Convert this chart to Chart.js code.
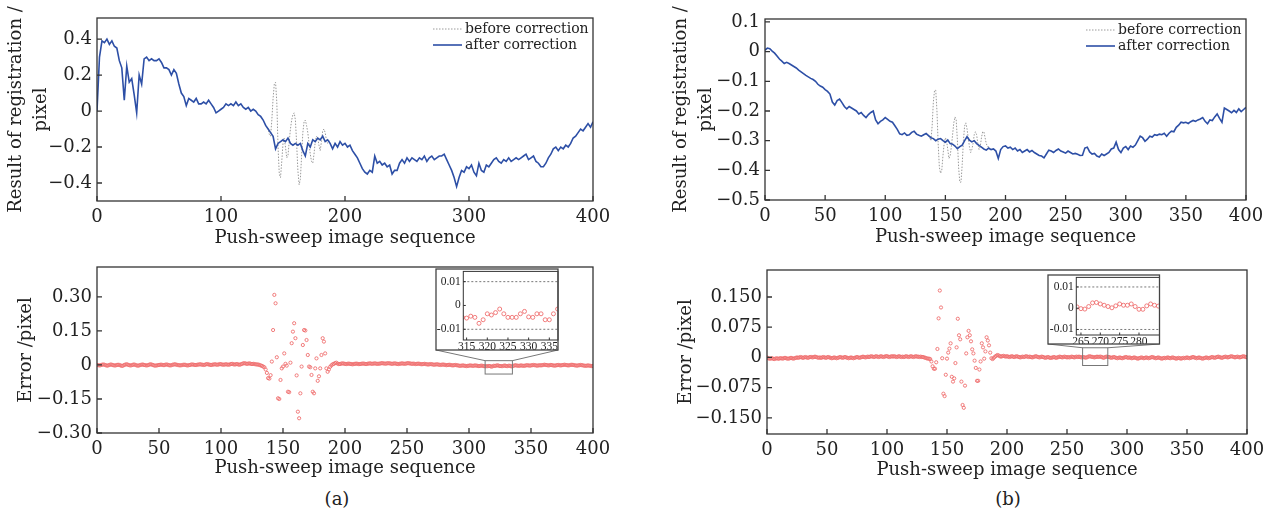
<!DOCTYPE html>
<html>
<head>
<meta charset="utf-8">
<script src="https://cdn.jsdelivr.net/npm/chart.js@4.4.1/dist/chart.umd.min.js"></script>
<style>
  body { margin: 0; background: #fff; }
  #wrap { position: relative; width: 1274px; height: 509px; overflow: hidden; }
  #wrap canvas { position: absolute; }
  .cap { position: absolute; font: 18px "DejaVu Serif", serif; color: #222; transform: translate(-50%, -50%); }
</style>
</head>
<body>
<div id="wrap">
  <canvas id="cRegA" width="630" height="250" style="left:0;top:0"></canvas>
  <canvas id="cErrA" width="630" height="230" style="left:0;top:250px"></canvas>
  <canvas id="cRegB" width="634" height="250" style="left:640px;top:0"></canvas>
  <canvas id="cErrB" width="634" height="232" style="left:640px;top:250px"></canvas>
  <canvas id="cZoomA" width="135" height="90" style="left:430px;top:262px"></canvas>
  <canvas id="cZoomB" width="127" height="78" style="left:1040px;top:268px"></canvas>
  <div class="cap" style="left:337px;top:498px">(a)</div>
  <div class="cap" style="left:1008px;top:498px">(b)</div>
</div>
<script>
// registration result, sampled every 2 images (0..400)
const seqStep = 2;
const afterA = [
  0.00, 0.30, 0.39, 0.38, 0.40, 0.37, 0.39, 0.36, 0.35, 0.28,
  0.24, 0.06, 0.25, 0.16, 0.18, 0.09, -0.01, 0.20, 0.15, 0.29,
  0.30, 0.28, 0.29, 0.28, 0.28, 0.29, 0.27, 0.24, 0.24, 0.23,
  0.20, 0.23, 0.21, 0.15, 0.10, 0.08, 0.03, 0.07, 0.06, 0.05,
  0.07, 0.04, 0.04, 0.05, 0.04, 0.06, 0.04, 0.02, -0.01, 0.00,
  0.01, 0.02, 0.04, 0.03, 0.04, 0.03, 0.05, 0.03, 0.04, 0.02,
  0.01, 0.02, 0.00, 0.01, 0.00, -0.02, -0.03, -0.05, -0.08, -0.10,
  -0.12, -0.14, -0.21, -0.18, -0.17, -0.16, -0.17, -0.15, -0.18, -0.19,
  -0.18, -0.19, -0.18, -0.22, -0.25, -0.18, -0.20, -0.16, -0.17, -0.15,
  -0.16, -0.14, -0.17, -0.16, -0.18, -0.21, -0.18, -0.20, -0.17, -0.19,
  -0.18, -0.20, -0.19, -0.22, -0.24, -0.26, -0.29, -0.32, -0.34, -0.35,
  -0.33, -0.34, -0.25, -0.29, -0.28, -0.30, -0.29, -0.31, -0.30, -0.35,
  -0.33, -0.33, -0.29, -0.27, -0.29, -0.26, -0.28, -0.26, -0.27, -0.28,
  -0.26, -0.27, -0.25, -0.28, -0.26, -0.25, -0.27, -0.26, -0.25, -0.25,
  -0.24, -0.27, -0.30, -0.33, -0.37, -0.42, -0.37, -0.33, -0.34, -0.31,
  -0.32, -0.30, -0.34, -0.36, -0.29, -0.33, -0.34, -0.30, -0.31, -0.29,
  -0.27, -0.26, -0.28, -0.29, -0.27, -0.28, -0.26, -0.28, -0.27, -0.26,
  -0.27, -0.26, -0.25, -0.24, -0.27, -0.26, -0.25, -0.28, -0.29, -0.31,
  -0.31, -0.29, -0.26, -0.24, -0.21, -0.20, -0.22, -0.20, -0.21, -0.19,
  -0.20, -0.18, -0.15, -0.14, -0.12, -0.10, -0.11, -0.09, -0.07, -0.09,
  -0.06
];
const beforeStartA = 136;
const beforeA = [
  -0.08, -0.09, -0.10, -0.13, -0.14, -0.05, 0.07, 0.15, 0.16, 0.05,
  -0.20, -0.35, -0.37, -0.28, -0.18, -0.15, -0.20, -0.26, -0.25, -0.17,
  -0.10, -0.05, -0.02, -0.01, -0.05, -0.18, -0.33, -0.41, -0.38, -0.25,
  -0.12, -0.06, -0.05, -0.08, -0.12, -0.18, -0.24, -0.28, -0.29, -0.24,
  -0.17, -0.14, -0.15, -0.19, -0.22, -0.17, -0.11, -0.10, -0.12, -0.16,
  -0.18, -0.17, -0.16
];
const afterB = [
  0.005, 0.012, 0.010, 0.002, -0.005, -0.015, -0.025, -0.032, -0.040, -0.036,
  -0.040, -0.045, -0.050, -0.055, -0.062, -0.068, -0.074, -0.080, -0.085, -0.090,
  -0.094, -0.100, -0.110, -0.116, -0.120, -0.128, -0.134, -0.143, -0.170, -0.180,
  -0.165, -0.160, -0.172, -0.185, -0.193, -0.185, -0.190, -0.195, -0.200, -0.210,
  -0.205, -0.215, -0.222, -0.212, -0.205, -0.200, -0.230, -0.243, -0.235, -0.230,
  -0.222, -0.228, -0.235, -0.238, -0.250, -0.262, -0.277, -0.280, -0.274, -0.282,
  -0.280, -0.272, -0.268, -0.278, -0.282, -0.285, -0.280, -0.276, -0.283, -0.290,
  -0.293, -0.300, -0.295, -0.293, -0.300, -0.305, -0.298, -0.310, -0.312, -0.318,
  -0.327, -0.320, -0.315, -0.300, -0.287, -0.298, -0.304, -0.300, -0.310, -0.316,
  -0.322, -0.328, -0.332, -0.325, -0.330, -0.328, -0.335, -0.360, -0.330, -0.320,
  -0.318, -0.325, -0.322, -0.330, -0.325, -0.335, -0.330, -0.340, -0.335, -0.330,
  -0.338, -0.333, -0.340, -0.345, -0.350, -0.352, -0.358, -0.345, -0.332, -0.335,
  -0.340, -0.333, -0.328, -0.335, -0.338, -0.342, -0.335, -0.340, -0.345, -0.343,
  -0.346, -0.350, -0.349, -0.325, -0.322, -0.338, -0.345, -0.343, -0.352, -0.355,
  -0.345, -0.350, -0.345, -0.340, -0.328, -0.325, -0.305, -0.330, -0.340, -0.325,
  -0.320, -0.330, -0.318, -0.322, -0.315, -0.300, -0.285, -0.290, -0.302, -0.295,
  -0.285, -0.288, -0.280, -0.282, -0.278, -0.280, -0.275, -0.285, -0.275, -0.268,
  -0.270, -0.255, -0.248, -0.238, -0.240, -0.238, -0.242, -0.236, -0.232, -0.235,
  -0.230, -0.227, -0.222, -0.235, -0.243, -0.230, -0.232, -0.220, -0.210, -0.225,
  -0.238, -0.190, -0.195, -0.200, -0.206, -0.198, -0.205, -0.193, -0.202, -0.195,
  -0.188
];
const beforeStartB = 136;
const beforeB = [
  -0.283, -0.29, -0.30, -0.25, -0.17, -0.13, -0.13, -0.20, -0.31, -0.39,
  -0.41, -0.40, -0.35, -0.31, -0.29, -0.30, -0.33, -0.36, -0.35, -0.32,
  -0.28, -0.24, -0.22, -0.23, -0.30, -0.39, -0.44, -0.44, -0.38, -0.30,
  -0.25, -0.24, -0.26, -0.29, -0.32, -0.34, -0.33, -0.31, -0.28, -0.27,
  -0.28, -0.31, -0.33, -0.32, -0.29, -0.27, -0.27, -0.29, -0.31, -0.32,
  -0.32, -0.33, -0.33
];

// error per image, 0..400
const errA = [
  0.000, -0.001, -0.002, -0.001, 0.001, 0.002, 0.001, -0.001, -0.003, -0.002,
  0.000, 0.002, 0.001, -0.001, -0.002, -0.002, 0.000, 0.001, 0.000, -0.002,
  -0.004, -0.003, 0.000, 0.002, 0.003, 0.001, -0.001, -0.002, -0.001, 0.001,
  0.002, 0.000, -0.002, -0.003, -0.002, 0.000, 0.001, 0.002, 0.000, -0.001,
  -0.002, -0.001, 0.001, 0.003, 0.002, 0.000, -0.002, -0.003, -0.002, -0.001,
  0.000, 0.001, 0.001, 0.000, -0.001, 0.001, 0.002, 0.001, -0.001, -0.002,
  -0.001, 0.001, 0.002, 0.003, 0.001, 0.000, -0.001, -0.002, -0.001, 0.000,
  0.001, 0.001, -0.001, -0.002, -0.001, 0.000, 0.002, 0.002, 0.001, 0.000,
  0.000, 0.001, 0.002, 0.003, 0.002, 0.001, 0.000, 0.001, 0.003, 0.004,
  0.002, 0.001, 0.000, 0.001, 0.002, 0.003, 0.002, 0.001, 0.002, 0.004,
  0.003, 0.002, 0.001, 0.002, 0.003, 0.002, 0.001, 0.002, 0.004, 0.005,
  0.003, 0.002, 0.003, 0.004, 0.002, 0.001, 0.003, 0.005, 0.007, 0.008,
  0.006, 0.005, 0.006, 0.007, 0.005, 0.004, 0.005, 0.004, 0.003, 0.002,
  0.002, 0.000, -0.002, -0.004, -0.007, -0.010,
  -0.020, -0.035, -0.058, -0.060, -0.045, 0.015, 0.154, 0.309, 0.272, 0.034,
  -0.147, -0.150, -0.066, -0.015, -0.007, 0.051, 0.005, -0.003, -0.118, -0.120,
  0.010, 0.096, 0.147, 0.184, 0.118, -0.046, -0.206, -0.235, -0.125, -0.007,
  0.088, 0.154, 0.152, 0.110, 0.044, -0.007, -0.010, -0.044, -0.118, -0.125,
  -0.015, 0.029, -0.070, -0.050, -0.015, 0.044, 0.118, 0.103, 0.051, -0.015,
  -0.030, -0.020, -0.008, -0.002, 0.003, 0.005, 0.008, 0.010, 0.006, 0.004,
  0.004, 0.006, 0.007, 0.006, 0.005, 0.004, 0.005, 0.006, 0.005, 0.004,
  0.003, 0.004, 0.005, 0.006, 0.005, 0.004, 0.004, 0.005, 0.006, 0.006,
  0.005, 0.004, 0.005, 0.006, 0.007, 0.006, 0.005, 0.006, 0.007, 0.006,
  0.005, 0.005, 0.006, 0.007, 0.008, 0.007, 0.006, 0.006, 0.007, 0.008,
  0.007, 0.006, 0.005, 0.006, 0.007, 0.006, 0.005, 0.004, 0.005, 0.006,
  0.007, 0.006, 0.005, 0.006, 0.007, 0.008, 0.007, 0.006, 0.005, 0.006,
  0.005, 0.004, 0.005, 0.006, 0.005, 0.004, 0.003, 0.004, 0.005, 0.004,
  0.003, 0.002, 0.003, 0.004, 0.003, 0.002, 0.001, 0.002, 0.003, 0.002,
  0.001, 0.000, 0.001, 0.002, 0.001, 0.000, -0.001, 0.000, 0.001, 0.000,
  -0.001, -0.002, -0.001, 0.000, -0.001, -0.002, -0.003, -0.004, -0.003, -0.002,
  -0.003, -0.004, -0.005, -0.004, -0.003, -0.002, -0.003, -0.004, -0.003, -0.002,
  -0.003, -0.004, -0.005, -0.004, -0.003, -0.004, -0.005, -0.006, -0.005,
  -0.0053, -0.0045, -0.0050, -0.0075, -0.0060, -0.0035, -0.0040, -0.0030, -0.0015, -0.0035,
  -0.0050, -0.0050, -0.0050, -0.0035, -0.0025, -0.0048, -0.0050, -0.0035, -0.0035, -0.0060,
  -0.0060, -0.0035, -0.0015,
  -0.002, -0.003, -0.004, -0.003, -0.002, -0.003, -0.004, -0.003, -0.002, -0.001,
  -0.002, -0.003, -0.002, -0.001, 0.000, -0.001, -0.002, -0.003, -0.002, -0.001,
  -0.002, -0.001, 0.000, 0.001, 0.000, -0.001, -0.002, -0.001, 0.000, -0.001,
  -0.002, -0.003, -0.002, -0.001, 0.000, -0.001, -0.002, -0.001, 0.000, 0.001,
  0.000, -0.001, -0.002, -0.001, 0.000, 0.001, 0.000, -0.001, -0.002, -0.003,
  -0.002, -0.001, 0.000, -0.001, -0.002, -0.003, -0.004, -0.003, -0.002, -0.003,
  -0.004, -0.005, -0.004
];
const errB = [
  0.000, -0.002, -0.003, -0.003, -0.002, -0.003, -0.004, -0.003, -0.002, -0.003,
  -0.003, -0.002, -0.002, -0.003, -0.002, -0.001, -0.002, -0.003, -0.003, -0.002,
  -0.001, -0.002, -0.003, -0.002, -0.001, 0.000, -0.001, 0.000, 0.001, 0.000,
  -0.001, 0.000, 0.001, 0.000, -0.001, 0.000, 0.001, 0.001, 0.000, 0.001,
  0.002, 0.001, 0.000, -0.001, 0.000, -0.001, 0.000, 0.001, 0.000, -0.001,
  0.000, 0.001, 0.000, -0.001, -0.002, -0.001, 0.000, -0.001, -0.002, -0.001,
  0.000, 0.001, 0.000, -0.001, 0.000, 0.001, 0.000, -0.001, -0.002, -0.001,
  0.000, -0.001, -0.002, -0.001, 0.000, 0.001, 0.000, -0.001, 0.000, 0.001,
  0.002, 0.001, 0.000, 0.001, 0.002, 0.001, 0.002, 0.003, 0.002, 0.001,
  0.002, 0.003, 0.002, 0.001, 0.002, 0.003, 0.002, 0.001, 0.002, 0.003,
  0.003, 0.002, 0.001, 0.002, 0.003, 0.002, 0.003, 0.002, 0.001, 0.002,
  0.003, 0.002, 0.001, 0.002, 0.001, 0.002, 0.003, 0.002, 0.001, 0.002,
  0.003, 0.002, 0.001, 0.002, 0.003, 0.002, 0.002, 0.001, 0.002, 0.001,
  0.001, 0.000, -0.001, -0.002, -0.003, -0.003,
  -0.004, -0.010, -0.022, -0.028, -0.028, -0.012, 0.021, 0.097, 0.166, 0.124,
  -0.002, -0.090, -0.096, -0.043, -0.003, 0.012, 0.022, 0.035, -0.048, -0.060,
  -0.052, -0.014, 0.025, 0.096, 0.055, 0.045, -0.060, -0.118, -0.125, -0.070,
  0.010, 0.050, 0.066, 0.055, 0.040, 0.020, 0.010, -0.008, -0.026, -0.058,
  -0.058, -0.030, -0.010, 0.035, 0.025, -0.003, 0.015, 0.050, 0.042, 0.030,
  0.012, -0.002, -0.004, -0.001, 0.002, 0.004, 0.006, 0.005, 0.003, 0.002,
  0.003, 0.004, 0.003, 0.002, 0.003, 0.002, 0.001, 0.002, 0.003, 0.002,
  0.001, 0.002, 0.003, 0.002, 0.001, 0.000, 0.001, 0.002, 0.001, 0.002,
  0.003, 0.002, 0.001, 0.002, 0.001, 0.000, 0.001, 0.002, 0.003, 0.002,
  0.001, 0.000, 0.001, 0.002, 0.001, 0.000, -0.001, 0.000, 0.001, 0.000,
  -0.001, -0.001, 0.000, 0.001, 0.000, -0.001, 0.000, 0.001, 0.002, 0.001,
  0.000, 0.001, 0.002, 0.001, 0.000, 0.001, 0.000, 0.001, 0.002, 0.001,
  0.000, 0.001, 0.002, 0.001, 0.002, 0.001, 0.000, 0.001,
  0.0006, -0.0002, -0.0004, 0.0008, 0.0025, 0.0027, 0.0020, 0.0014, 0.0008, 0.0002,
  0.0011, 0.0020, 0.0014, 0.0014, 0.0020, 0.0008, -0.0005, -0.0005, 0.0011, 0.0020,
  0.0014,
  0.001, 0.000, -0.001, 0.000, 0.001, 0.000, -0.001, -0.002, -0.001, 0.000,
  -0.001, -0.002, -0.001, 0.000, 0.001, 0.000, -0.001, 0.000, -0.001, -0.002,
  -0.001, 0.000, -0.001, -0.002, -0.003, -0.002, -0.001, 0.000, -0.001, -0.002,
  -0.001, 0.000, -0.001, -0.002, -0.001, 0.000, 0.001, 0.000, -0.001, -0.002,
  -0.001, 0.000, -0.001, -0.002, -0.003, -0.002, -0.001, -0.002, -0.001, 0.000,
  -0.001, -0.002, -0.001, 0.000, -0.001, -0.002, -0.003, -0.002, -0.001, -0.002,
  -0.003, -0.002, -0.001, -0.002, -0.001, 0.000, -0.001, -0.002, -0.001, 0.000,
  0.001, 0.000, -0.001, -0.002, -0.001, 0.000, -0.001, -0.002, -0.003, -0.002,
  -0.001, 0.000, -0.001, -0.002, -0.001, 0.000, 0.001, 0.000, -0.001, 0.000,
  0.001, 0.002, 0.001, 0.000, -0.001, 0.000, 0.001, 0.002, 0.001, 0.000,
  0.001, 0.002, 0.003, 0.002, 0.001, 0.000, 0.001, 0.002, 0.001, 0.000,
  0.001, 0.002, 0.003, 0.002, 0.001, 0.000
];

// ticks
const xTicksReg = [0, 100, 200, 300, 400];
const xTicksSeq = [0, 50, 100, 150, 200, 250, 300, 350, 400];
const yTicksRegA = [0.4, 0.2, 0, -0.2, -0.4];
const yLabelsRegA = ['0.4', '0.2', '0', '\u22120.2', '\u22120.4'];
const yTicksRegB = [0.1, 0, -0.1, -0.2, -0.3, -0.4, -0.5];
const yLabelsRegB = ['0.1', '0', '\u22120.1', '\u22120.2', '\u22120.3', '\u22120.4', '\u22120.5'];
const yTicksErrA = [0.30, 0.15, 0, -0.15, -0.30];
const yLabelsErrA = ['0.30', '0.15', '0', '\u22120.15', '\u22120.30'];
const yTicksErrB = [0.150, 0.075, 0, -0.075, -0.150];
const yLabelsErrB = ['0.150', '0.075', '0', '\u22120.075', '\u22120.150'];
const xTicksZoomA = [315, 320, 325, 330, 335];
const xTicksZoomB = [265, 270, 275, 280];
const yTicksZoom = [0.01, 0, -0.01];
const yLabelsZoom = ['0.01', '0', '-0.01'];
const zoomGrid = [0.01, -0.01];

const blue = '#2d4fa6';
const gray = '#9a9a9a';
const red = '#ef6f6f';

Chart.defaults.font.family = '"DejaVu Serif", serif';
Chart.defaults.color = '#222';

function seqPoints(vals, start, step) {
  return vals.map((v, k) => ({ x: start + k * step, y: v }));
}

// box around plot area, inward ticks, optional dotted grid and white inset box
const framePlugin = {
  id: 'frame',
  beforeDraw(chart, args, o) {
    if (!o.box) return;
    const ctx = chart.ctx;
    ctx.save();
    ctx.fillStyle = '#fff';
    ctx.fillRect(o.box[0], o.box[1], o.box[2], o.box[3]);
    ctx.restore();
  },
  afterDraw(chart, args, o) {
    const { ctx, chartArea: a, scales: { x, y } } = chart;
    ctx.save();
    if (o.grid) {
      ctx.strokeStyle = '#555';
      ctx.lineWidth = 0.8;
      ctx.setLineDash([2, 2]);
      ctx.beginPath();
      o.grid.forEach(v => {
        const py = y.getPixelForValue(v);
        ctx.moveTo(a.left, py);
        ctx.lineTo(a.right, py);
      });
      ctx.stroke();
      ctx.setLineDash([]);
    }
    ctx.strokeStyle = '#333';
    ctx.lineWidth = o.lw || 1.3;
    ctx.strokeRect(a.left, a.top, a.right - a.left, a.bottom - a.top);
    const t = o.tick || 5;
    ctx.beginPath();
    x.ticks.forEach(tk => {
      const px = x.getPixelForValue(tk.value);
      ctx.moveTo(px, a.bottom);
      ctx.lineTo(px, a.bottom - t);
    });
    y.ticks.forEach(tk => {
      const py = y.getPixelForValue(tk.value);
      ctx.moveTo(a.left, py);
      ctx.lineTo(a.left + t, py);
    });
    ctx.stroke();
    if (o.box) {
      ctx.strokeStyle = '#444';
      ctx.lineWidth = 1.3;
      ctx.strokeRect(o.box[0], o.box[1], o.box[2], o.box[3]);
    }
    ctx.restore();
  }
};

// small rectangle of the zoomed window and the lines to the inset
const zoomBoxPlugin = {
  id: 'zoomBox',
  afterDraw(chart, args, o) {
    if (!o.x) return;
    const { ctx, scales: { x, y } } = chart;
    const x0 = x.getPixelForValue(o.x[0]), x1 = x.getPixelForValue(o.x[1]);
    const y0 = y.getPixelForValue(o.y[1]), y1 = y.getPixelForValue(o.y[0]);
    const bl = [o.corners[0][0] - o.origin[0], o.corners[0][1] - o.origin[1]];
    const br = [o.corners[1][0] - o.origin[0], o.corners[1][1] - o.origin[1]];
    ctx.save();
    ctx.strokeStyle = '#777';
    ctx.lineWidth = 1;
    ctx.strokeRect(x0, y0, x1 - x0, y1 - y0);
    ctx.beginPath();
    ctx.moveTo(bl[0], bl[1]); ctx.lineTo(x0, y0);
    ctx.moveTo(br[0], br[1]); ctx.lineTo(x1, y0);
    ctx.stroke();
    ctx.restore();
  }
};

Chart.register(framePlugin, zoomBoxPlugin);

// legend drawn inside the top right corner
const lineLegend = {
  id: 'lineLegend',
  afterDraw(chart) {
    const { ctx, chartArea: a } = chart;
    const items = [chart.data.datasets[1], chart.data.datasets[0]];
    ctx.save();
    ctx.font = '14px "DejaVu Serif"';
    ctx.textBaseline = 'middle';
    ctx.fillStyle = '#222';
    items.forEach((ds, k) => {
      const yy = a.top + 11 + k * 16;
      ctx.strokeStyle = ds.borderColor;
      ctx.lineWidth = ds.borderWidth;
      ctx.setLineDash(ds.borderDash || []);
      ctx.beginPath();
      ctx.moveTo(a.right - 160, yy);
      ctx.lineTo(a.right - 131, yy);
      ctx.stroke();
      ctx.fillText(ds.label, a.right - 128, yy);
    });
    ctx.restore();
  }
};

function panel(id, p) {
  const tickFont = { size: p.fontSize || 18, family: p.fontFamily || '"DejaVu Serif", serif' };
  return new Chart(document.getElementById(id), {
    type: 'line',
    data: { datasets: p.datasets },
    options: {
      responsive: false,
      animation: false,
      events: [],
      layout: { padding: p.pad },
      plugins: {
        legend: { display: false },
        tooltip: { enabled: false },
        frame: p.frame || {},
        zoomBox: p.zoom || {}
      },
      scales: {
        x: {
          type: 'linear', min: p.x.min, max: p.x.max,
          grid: { display: false, drawTicks: false },
          border: { display: false },
          afterBuildTicks: s => { s.ticks = p.x.ticks.map(v => ({ value: v })); },
          afterFit: s => { s.height = p.x.size; },
          ticks: { autoSkip: false, maxRotation: 0, padding: p.x.gap, font: tickFont,
                   callback: (v, i) => String(p.x.ticks[i]) },
          title: p.x.title
            ? { display: true, text: p.x.title, font: { size: 18 }, padding: { top: 0, bottom: p.x.titlePad } }
            : { display: false }
        },
        y: {
          type: 'linear', position: 'left', min: p.y.min, max: p.y.max,
          grid: { display: false, drawTicks: false },
          border: { display: false },
          afterBuildTicks: s => { s.ticks = p.y.ticks.map(v => ({ value: v })); },
          afterFit: s => { s.width = p.y.size; },
          ticks: { autoSkip: false, padding: p.y.gap, font: tickFont,
                   callback: (v, i) => p.y.labels[i] },
          title: p.y.title
            ? { display: true, text: p.y.title, font: { size: 18, lineHeight: p.y.lh || 1.2 },
                padding: { top: p.y.titlePad, bottom: 0 } }
            : { display: false }
        }
      }
    },
    plugins: p.plugins || []
  });
}

function regSets(after, beforeStart, before) {
  return [
    { label: 'after correction', data: seqPoints(after, 0, seqStep), borderColor: blue,
      borderWidth: 1.6, pointRadius: 0, tension: 0 },
    { label: 'before correction', data: seqPoints(before, beforeStart, 1), borderColor: gray,
      borderWidth: 1, borderDash: [1.5, 1.5], pointRadius: 0, tension: 0 }
  ];
}

function errSet(vals, r) {
  return [{ data: seqPoints(vals, 0, 1), showLine: false, pointRadius: r, pointBorderWidth: 0.9,
            pointBorderColor: red, pointBackgroundColor: 'rgba(0,0,0,0)' }];
}

const regTitle = ['Result of registration /', 'pixel'];
const seqTitle = 'Push-sweep image sequence';
const insetFont = '"Liberation Serif", serif';

panel('cRegA', {
  datasets: regSets(afterA, beforeStartA, beforeA),
  pad: { left: 0, top: 18, right: 37, bottom: 0 },
  x: { min: 0, max: 400, ticks: xTicksReg, size: 49, gap: 6, title: seqTitle, titlePad: 1.2 },
  y: { min: -0.5, max: 0.517, ticks: yTicksRegA, labels: yLabelsRegA, size: 97, gap: 5,
       title: regTitle, lh: 1.4, titlePad: 3.4 },
  plugins: [lineLegend]
});

panel('cErrA', {
  datasets: errSet(errA, 1.6),
  pad: { left: 0, top: 17, right: 37, bottom: 0 },
  x: { min: 0, max: 400, ticks: xTicksSeq, size: 47, gap: 6, title: seqTitle, titlePad: 1.2 },
  y: { min: -0.30, max: 0.432, ticks: yTicksErrA, labels: yLabelsErrA, size: 97, gap: 5,
       title: 'Error /pixel', titlePad: 16 },
  zoom: { x: [313, 335], y: [-0.040, 0.019], corners: [[436, 350], [558, 350]], origin: [0, 250] }
});

panel('cRegB', {
  datasets: regSets(afterB, beforeStartB, beforeB),
  pad: { left: 0, top: 19, right: 28, bottom: 0 },
  x: { min: 0, max: 400, ticks: xTicksSeq, size: 50, gap: 6, title: seqTitle, titlePad: 2.2 },
  y: { min: -0.5, max: 0.11, ticks: yTicksRegB, labels: yLabelsRegB, size: 125, gap: 5,
       title: regTitle, lh: 1.4, titlePad: 28.4 },
  plugins: [lineLegend]
});

panel('cErrB', {
  datasets: errSet(errB, 1.6),
  pad: { left: 0, top: 20, right: 27, bottom: 0 },
  x: { min: 0, max: 400, ticks: xTicksSeq, size: 48, gap: 6, title: seqTitle, titlePad: 1.2 },
  y: { min: -0.19, max: 0.217, ticks: yTicksErrB, labels: yLabelsErrB, size: 127, gap: 5,
       title: 'Error /pixel', titlePad: 36 },
  zoom: { x: [263, 284], y: [-0.020, 0.024], corners: [[1048, 344], [1159.5, 344]], origin: [640, 250] }
});

panel('cZoomA', {
  datasets: errSet(errA, 2),
  fontSize: 11.5, fontFamily: insetFont,
  pad: { left: 6, top: 7, right: 7, bottom: 2 },
  x: { min: 314.2, max: 337.1, ticks: xTicksZoomA, size: 10, gap: 0 },
  y: { min: -0.0145, max: 0.0143, ticks: yTicksZoom, labels: yLabelsZoom, size: 27.3, gap: 2.5 },
  frame: { box: [6, 7, 122, 81], grid: zoomGrid, tick: 2.5, lw: 1 }
});

panel('cZoomB', {
  datasets: errSet(errB, 2),
  fontSize: 11.5, fontFamily: insetFont,
  pad: { left: 8, top: 7, right: 7.5, bottom: 2 },
  x: { min: 263.8, max: 285.3, ticks: xTicksZoomB, size: 9, gap: 0 },
  y: { min: -0.0126, max: 0.0145, ticks: yTicksZoom, labels: yLabelsZoom, size: 28.3, gap: 2.5 },
  frame: { box: [8, 7, 111.5, 69], grid: zoomGrid, tick: 2.5, lw: 1 }
});
</script>
</body>
</html>
